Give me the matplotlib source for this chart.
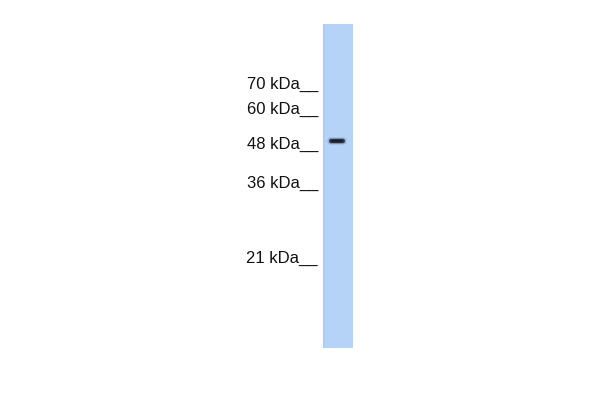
import matplotlib
matplotlib.use("Agg")
import matplotlib.pyplot as plt
from matplotlib.patches import Rectangle, FancyBboxPatch

# Marker ladder (label, baseline position in image pixels)
marker_labels = ["70 kDa", "60 kDa", "48 kDa", "36 kDa", "21 kDa"]
marker_pos = [88.5, 113.5, 148.5, 188.0, 263.0]

# Detected band (vertical centre in image pixels)
band_pos = [141.0]

fig = plt.figure(figsize=(6, 4), dpi=100)
ax = fig.add_axes([0, 0, 1, 1])
ax.set_xlim(0, 600)
ax.set_ylim(400, 0)
ax.axis("off")

# Lane
lane_left, lane_right, lane_top, lane_bottom = 323, 353, 24, 348
ax.add_patch(Rectangle((lane_left, lane_top), lane_right - lane_left,
                       lane_bottom - lane_top, facecolor="#b5d3f6",
                       edgecolor="none", zorder=1))
ax.add_patch(Rectangle((lane_left, lane_top), 2, lane_bottom - lane_top,
                       facecolor="#acccf3", edgecolor="none", zorder=1.5))

# Bands
for y in band_pos:
    ax.add_patch(FancyBboxPatch((327.5, y - 3.5), 19, 7,
                                boxstyle="round,pad=0,rounding_size=3.5",
                                facecolor="#7d93b5", edgecolor="none",
                                alpha=0.5, zorder=2))
    ax.add_patch(FancyBboxPatch((329, y - 2.3), 16, 4.6,
                                boxstyle="round,pad=0,rounding_size=2.3",
                                facecolor="#35404f", edgecolor="none",
                                zorder=3))
    ax.add_patch(FancyBboxPatch((331, y - 1.4), 12, 2.8,
                                boxstyle="round,pad=0,rounding_size=1.4",
                                facecolor="#1a2029", edgecolor="none",
                                zorder=3.5))

# Marker labels
for lab, y in zip(marker_labels, marker_pos):
    ax.text(318, y, lab + "__", ha="right", va="baseline",
            fontsize=12, family=["Liberation Sans", "DejaVu Sans"],
            color="#111111", zorder=4)

fig.savefig("out.png", dpi=100)
